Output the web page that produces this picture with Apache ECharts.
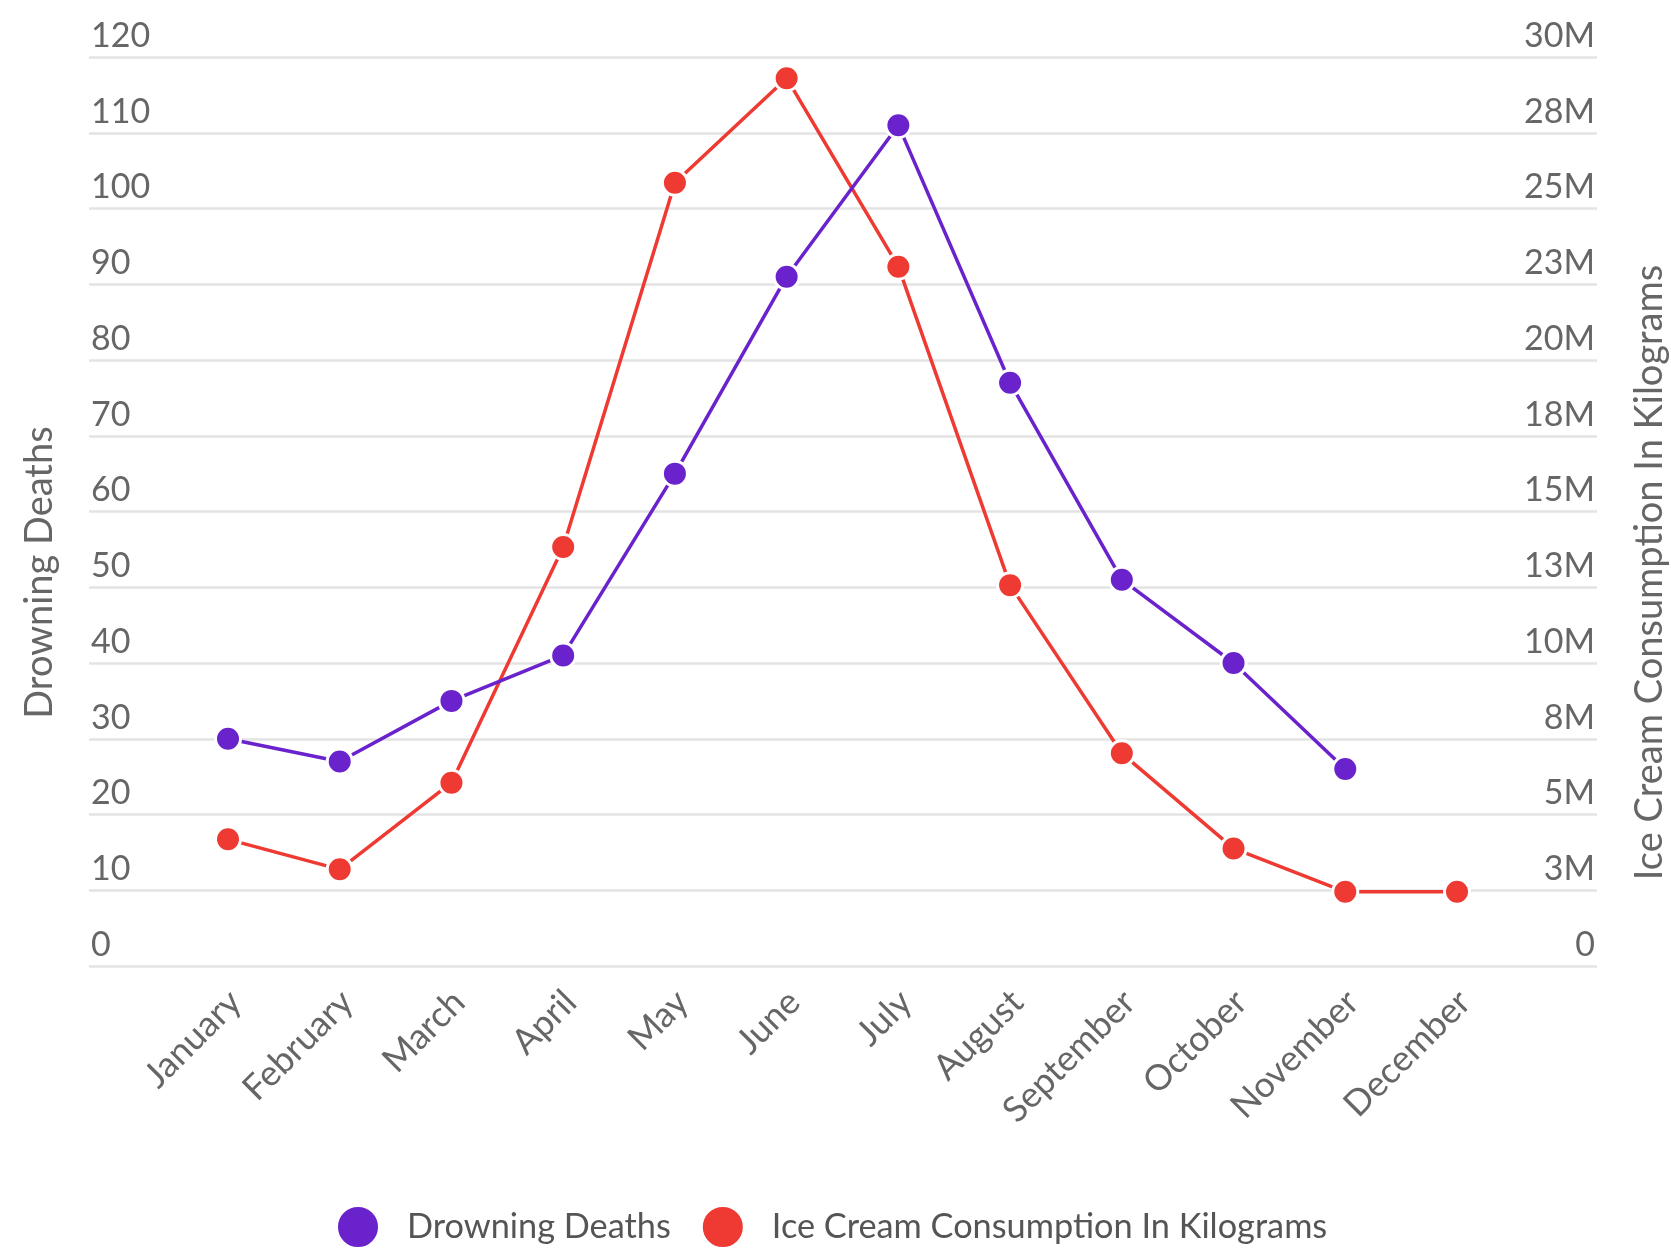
<!DOCTYPE html>
<html>
<head>
<meta charset="utf-8">
<title>Drowning Deaths vs Ice Cream Consumption</title>
<script src="https://cdn.jsdelivr.net/npm/echarts@6/dist/echarts.min.js"></script>
<style>
  html, body { margin: 0; padding: 0; background: #fff; }
  #chart { width: 1671px; height: 1250px; }
</style>
</head>
<body>
<div id="chart"></div>
<script>
// Monthly figures
const months = ['January', 'February', 'March', 'April', 'May', 'June',
  'July', 'August', 'September', 'October', 'November', 'December'];
const drowningDeaths = [30, 27, 35, 41, 65, 91, 111, 77, 51, 40, 26, null];
const iceCreamKg = [4180000, 3190000, 6050000, 13830000, 25850000, 29300000,
  23080000, 12570000, 7020000, 3880000, 2450000, 2450000];

// Axis ranges
const deathsMax = 120, deathsStep = 10;
const iceMax = 30000000, iceStep = 2500000;

const purple = '#6a22cc';
const red = '#ee3a32';
const font = 'Lato, "Open Sans", sans-serif';
const labelColor = '#666';

const chart = echarts.init(document.getElementById('chart'), null, { renderer: 'canvas' });

chart.setOption({
  animation: false,
  backgroundColor: '#fff',
  textStyle: { fontFamily: font },
  grid: [
    // full-width frame carrying the value scales and gridlines
    { left: 89, right: 74, top: 57, bottom: 284, outerBoundsMode: 'none', containLabel: false },
    // plotting area for the monthly series
    { left: 228, right: 214, top: 57, bottom: 284, outerBoundsMode: 'none', containLabel: false }
  ],
  legend: {
    top: 1200,
    left: 331,
    icon: 'circle',
    itemWidth: 42,
    itemHeight: 42,
    itemGap: 30,
    textStyle: { fontFamily: font, fontSize: 34.3, color: '#555', padding: [0, 0, 0, 23] },
    data: ['Drowning Deaths', 'Ice Cream Consumption In Kilograms']
  },
  xAxis: [
    { gridIndex: 0, type: 'category', data: months, show: false },
    {
      gridIndex: 1,
      type: 'category',
      data: months,
      boundaryGap: false,
      axisLine: { show: false },
      axisTick: { show: false },
      splitLine: { show: false },
      axisLabel: {
        rotate: 45,
        margin: 23,
        interval: 0,
        formatter: v => '{m|' + v + '}',
        rich: {
          m: {
            fontFamily: font,
            fontSize: 35.5,
            color: labelColor,
            padding: [21, 0, 0, 0]
          }
        }
      }
    }
  ],
  yAxis: [
    {
      gridIndex: 0,
      type: 'value',
      position: 'left',
      min: 0, max: deathsMax, interval: deathsStep,
      name: 'Drowning Deaths',
      nameLocation: 'middle',
      nameRotate: 90,
      nameGap: 30,
      nameTextStyle: { fontFamily: font, fontSize: 38, color: labelColor, padding: [0, 122, 0, 0] },
      axisLine: { show: false },
      axisTick: { show: false },
      axisLabel: {
        inside: true,
        margin: 2,
        verticalAlign: 'bottom',
        padding: [0, 0, 4, 0],
        fontFamily: font,
        fontSize: 34,
        color: labelColor
      },
      splitLine: { show: true, lineStyle: { color: '#e3e3e3', width: 2.5 } }
    },
    {
      gridIndex: 0,
      type: 'value',
      position: 'right',
      min: 0, max: iceMax, interval: iceStep,
      name: 'Ice Cream Consumption In Kilograms',
      nameLocation: 'middle',
      nameRotate: 90,
      nameGap: 34,
      nameTextStyle: { fontFamily: font, fontSize: 38, color: labelColor, padding: [0, 122, 0, 0] },
      axisLine: { show: false },
      axisTick: { show: false },
      axisLabel: {
        inside: true,
        margin: 2,
        verticalAlign: 'bottom',
        padding: [0, 0, 4, 0],
        fontFamily: font,
        fontSize: 34,
        color: labelColor,
        formatter: v => v === 0 ? '0' : Math.round(v / 1e6) + 'M'
      },
      splitLine: { show: false }
    },
    { gridIndex: 1, type: 'value', min: 0, max: deathsMax, interval: deathsStep, show: false },
    { gridIndex: 1, type: 'value', min: 0, max: iceMax, interval: iceStep, show: false }
  ],
  series: [
    {
      name: 'Drowning Deaths',
      type: 'line',
      xAxisIndex: 1,
      yAxisIndex: 2,
      data: drowningDeaths,
      symbol: 'circle',
      symbolSize: 25,
      showSymbol: true,
      lineStyle: { color: purple, width: 3.5 },
      itemStyle: { color: purple, borderColor: '#fff', borderWidth: 3 },
      z: 3
    },
    {
      name: 'Ice Cream Consumption In Kilograms',
      type: 'line',
      xAxisIndex: 1,
      yAxisIndex: 3,
      data: iceCreamKg,
      symbol: 'circle',
      symbolSize: 25,
      showSymbol: true,
      lineStyle: { color: red, width: 3.5 },
      itemStyle: { color: red, borderColor: '#fff', borderWidth: 3 },
      z: 2
    }
  ]
});
</script>
</body>
</html>
